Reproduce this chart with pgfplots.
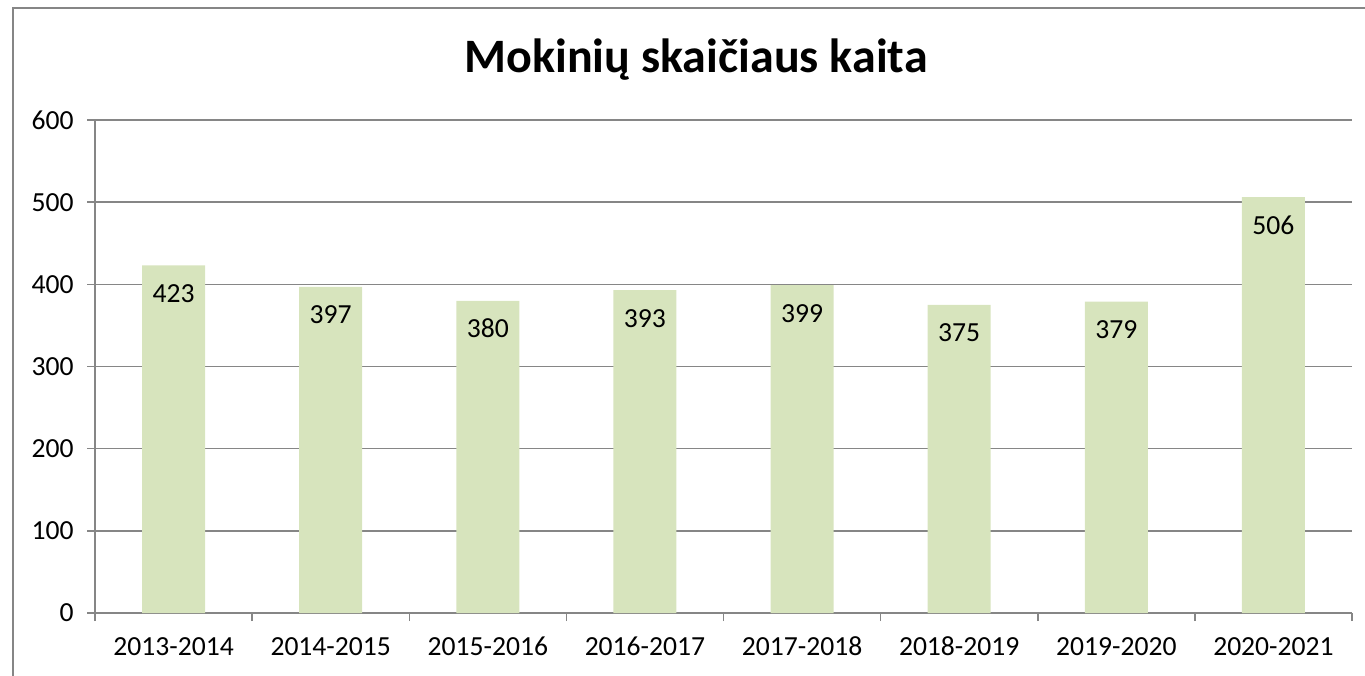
\documentclass[border=0pt]{standalone}
\usepackage{fontspec}
\setmainfont{Carlito}
\usepackage{pgfplots}
\pgfplotsset{compat=1.18}
\definecolor{barg}{HTML}{D7E4BD}
\definecolor{gridg}{HTML}{868686}
\begin{document}
\begin{tikzpicture}
\path[use as bounding box] (0,0) rectangle (682.5pt,337.5pt);
\draw[gridg, line width=0.9pt] (6.5pt,-2pt) -- (6.5pt,333.5pt) -- (684pt,333.5pt);
\node[anchor=base, font=\fontsize{24}{28}\selectfont\bfseries] at (348pt,301pt) {Mokinių skaičiaus kaita};
\begin{axis}[
  at={(47.5pt,31pt)}, anchor=south west,
  scale only axis, width=628.5pt, height=246.5pt,
  ybar, bar width=31.5pt,
  xmin=-0.5, xmax=7.5, ymin=0, ymax=600,
  ytick={0,100,...,600},
  xtick={0,1,2,3,4,5,6,7},
  xticklabels={2013-2014,2014-2015,2015-2016,2016-2017,2017-2018,2018-2019,2019-2020,2020-2021},
  minor xtick={-0.5,0.5,...,7.5},
  major x tick style={draw=none},
  minor x tick style={gridg, line width=0.75pt},
  major y tick style={gridg, line width=0.75pt},
  tick align=outside,
  major tick length=4pt, minor tick length=4pt,
  axis x line*=bottom, axis y line*=left,
  axis line style={gridg, line width=0.75pt, -},
  ymajorgrids, major grid style={gridg, line width=0.75pt},
  /pgf/number format/assume math mode=true,
  tick label style={font=\fontsize{13.8}{16}\selectfont, text=black},
  yticklabel style={anchor=east, inner sep=0pt, xshift=-6.5pt},
  xticklabel style={anchor=base, inner sep=0pt, yshift=-17pt},
  nodes near coords,
  every node near coord/.append style={font=\fontsize{13.8}{16}\selectfont, anchor=base, inner sep=0pt, yshift=-18.5pt, text=black},
  clip=false,
]
\addplot[fill=barg, draw=none] coordinates {(0,423) (1,397) (2,380) (3,393) (4,399) (5,375) (6,379) (7,506)};
\end{axis}
\end{tikzpicture}
\end{document}
